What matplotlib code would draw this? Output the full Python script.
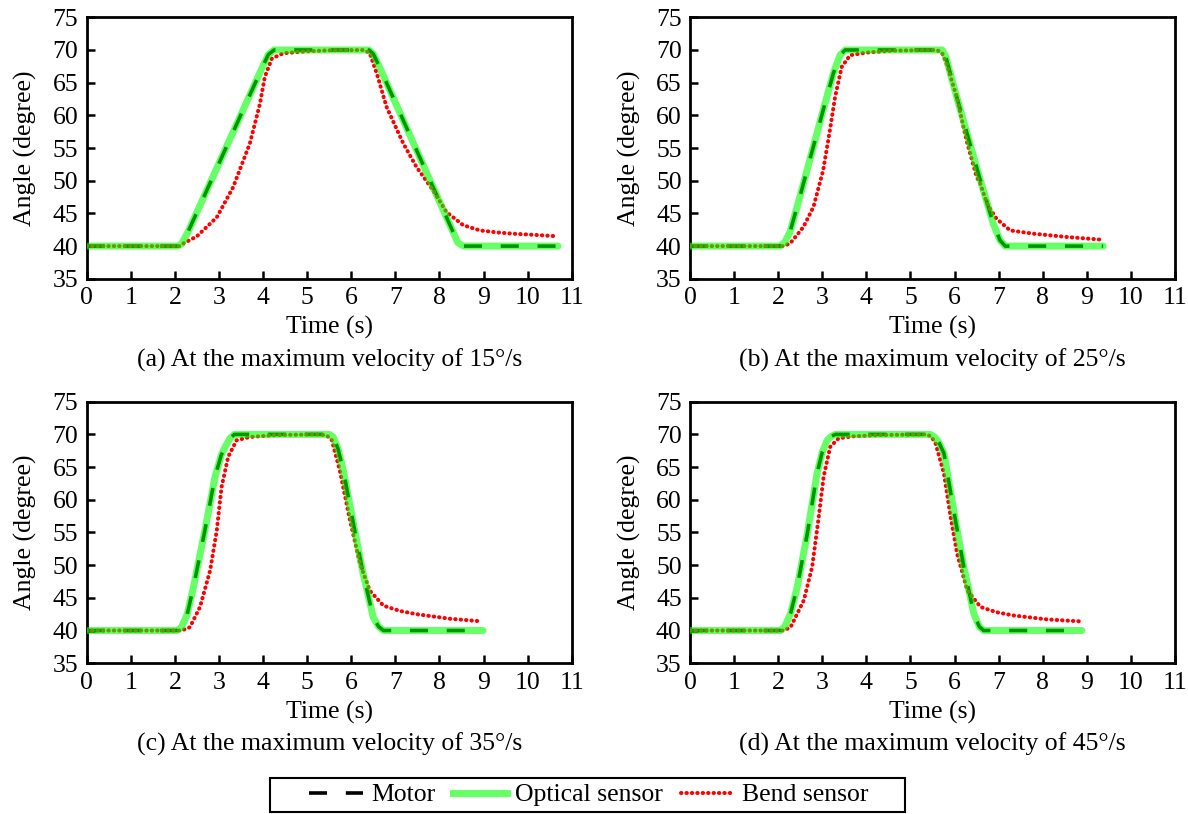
import matplotlib
matplotlib.use("Agg")
import matplotlib.pyplot as plt
from matplotlib.lines import Line2D
from matplotlib.patches import Rectangle

plt.rcParams['font.family'] = ['Liberation Serif', 'DejaVu Serif']
plt.rcParams['font.size'] = 18.5
plt.rcParams['lines.scale_dashes'] = False

# (a) 15 deg/s  -- motor and optical sensor lie on top of each other
motor_a_t = [0, 2.05, 2.15, 2.3, 4.0, 4.12, 4.25, 6.4, 6.5, 6.62, 8.3, 8.42, 8.55, 10.69]
motor_a_v = [40, 40, 40.3, 42.2, 67.6, 69.3, 70, 70, 69.4, 67.7, 42.3, 40.5, 40, 40]
bend_a_t = [0, 2.1, 2.19, 2.5, 2.95, 3.32, 3.70, 3.93, 4.04, 4.20, 4.46, 5.0, 5.5, 6.3,
            6.42, 6.58, 6.80, 7.18, 7.48, 7.86, 8.16, 8.54, 8.92, 9.3, 9.67, 10.2, 10.69]
bend_a_v = [40, 40, 40.4, 41.5, 44.4, 49.0, 55.7, 61.8, 65.9, 68.7, 69.5, 69.8, 69.95, 70,
            69.5, 66.4, 61.3, 55.7, 52.1, 48.5, 45.2, 43.2, 42.4, 42.1, 41.9, 41.7, 41.5]

# (b) 25 deg/s
motor_b_t = [0, 2.04, 2.15, 2.27, 2.49, 3.02, 3.25, 3.40, 3.52, 5.72, 5.80, 6.05, 6.54, 6.88, 7.03, 7.15, 9.37]
motor_b_v = [40, 40, 40.6, 42.2, 47.5, 60.8, 66.4, 69.2, 70, 70, 69.0, 62.8, 51.1, 43.4, 40.9, 40, 40]
bend_b_t = [0, 2.1, 2.27, 2.57, 2.80, 3.02, 3.17, 3.29, 3.44, 3.63, 4.0, 4.6, 5.6, 5.72, 5.82,
            6.05, 6.27, 6.50, 6.58, 6.75, 6.95, 7.26, 7.79, 8.54, 9.30]
bend_b_v = [40, 40, 40.4, 42.9, 46.0, 51.6, 57.6, 62.8, 67.4, 69.2, 69.6, 69.9, 70, 69.5, 67.9,
            62.8, 56.2, 50.6, 49.6, 46.3, 44.2, 42.4, 41.9, 41.4, 41.0]

# (c) 35 deg/s
motor_c_t = [0, 2.05, 2.15, 2.28, 2.42, 2.68, 2.91, 3.05, 3.14, 3.25, 3.35, 5.5, 5.59, 5.70,
             5.82, 6.05, 6.27, 6.50, 6.62, 6.73, 8.99]
motor_c_v = [40, 40, 40.5, 42.5, 46.6, 55.3, 63.5, 66.8, 68.1, 69.4, 70, 70, 69.6, 67.8,
             64.5, 56.3, 48.7, 42.0, 40.6, 40, 40]
bend_c_t = [0, 2.15, 2.34, 2.57, 2.80, 2.95, 3.06, 3.21, 3.40, 3.7, 4.3, 5.3, 5.45, 5.56,
            5.74, 5.97, 6.20, 6.42, 6.73, 7.1, 7.48, 8.24, 8.96]
bend_c_v = [40, 40, 40.5, 43.6, 49.2, 55.3, 62.0, 66.6, 69.1, 69.6, 69.9, 70, 69.8, 69.1,
            64.5, 56.9, 50.2, 46.1, 43.8, 43.0, 42.5, 41.8, 41.4]

# (d) 45 deg/s
motor_d_t = [0, 2.05, 2.15, 2.28, 2.43, 2.66, 2.88, 3.0, 3.11, 3.2, 3.30, 5.45, 5.55, 5.65,
             5.76, 5.98, 6.21, 6.44, 6.56, 6.66, 8.89]
motor_d_v = [40, 40, 40.6, 42.6, 46.6, 54.8, 64.0, 67.3, 69.1, 69.7, 70, 70, 69.6, 68.7,
             67.1, 58.4, 49.7, 42.5, 40.6, 40, 40]
bend_d_t = [0, 2.12, 2.28, 2.58, 2.77, 2.92, 3.03, 3.18, 3.37, 3.7, 4.3, 5.35, 5.47, 5.57,
            5.76, 5.91, 6.06, 6.29, 6.59, 6.95, 7.34, 8.10, 8.85]
bend_d_v = [40, 40, 40.5, 44.6, 49.7, 57.4, 63.5, 68.1, 69.4, 69.7, 69.9, 70, 69.7, 68.6,
            64.0, 57.4, 51.7, 46.1, 43.6, 42.8, 42.3, 41.7, 41.4]

captions = ["(a) At the maximum velocity of 15°/s",
            "(b) At the maximum velocity of 25°/s",
            "(c) At the maximum velocity of 35°/s",
            "(d) At the maximum velocity of 45°/s"]

panels = [
    (motor_a_t, motor_a_v, bend_a_t, bend_a_v),
    (motor_b_t, motor_b_v, bend_b_t, bend_b_v),
    (motor_c_t, motor_c_v, bend_c_t, bend_c_v),
    (motor_d_t, motor_d_v, bend_d_t, bend_d_v),
]

W, H = 1188, 814
fig = plt.figure(figsize=(W / 100, H / 100), dpi=100)

boxes = [(86.7, 17.3), (690, 17.3), (86.7, 401.7), (690, 401.7)]
aw, ah = 485, 261.5

motor_style = dict(color='black', lw=2.6, dashes=(13, 13.5), dash_capstyle='butt')
optical_style = dict(color='#00ff00', lw=5, alpha=0.6, solid_capstyle='round')
bend_style = dict(color='red', lw=2.9, dashes=(0.3, 3.6), dash_capstyle='round')

for (mt, mv, bt, bv), cap, (x0, y0) in zip(panels, captions, boxes):
    ax = fig.add_axes([x0 / W, 1 - (y0 + ah) / H, aw / W, ah / H])
    ax.plot(mt, mv, zorder=2, **motor_style)
    ax.plot(bt, bv, zorder=3, **bend_style)
    ax.plot(mt, mv, zorder=4, **optical_style)  # optical sensor follows motor
    ax.set_xlim(0, 11)
    ax.set_ylim(35, 75)
    ax.set_xticks(range(0, 12))
    ax.set_yticks(range(35, 76, 5))
    ax.tick_params(direction='in', length=5.5, width=1.8, pad=6,
                   top=False, right=False)
    for s in ax.spines.values():
        s.set_linewidth(2)
    ax.set_xlabel("Time (s)", labelpad=5)
    ax.set_ylabel("Angle (degree)", labelpad=11)
    ax.text(0.5, -0.31, cap, transform=ax.transAxes, ha='center', va='center')

handles = [Line2D([], [], **motor_style),
           Line2D([], [], color='#66ff66', lw=5),
           Line2D([], [], **bend_style)]
fig.legend(handles, ["Motor", "Optical sensor", "Bend sensor"],
           loc='center', bbox_to_anchor=(589 / W, 1 - 795 / H), ncol=3,
           frameon=False, handlelength=2.1, handletextpad=0.3, columnspacing=0.7)
fig.add_artist(Rectangle((270 / W, 1 - 812 / H), 635 / W, 34 / H, transform=fig.transFigure,
                         fill=False, edgecolor='black', lw=1.5))

fig.savefig("out.png", dpi=100)
